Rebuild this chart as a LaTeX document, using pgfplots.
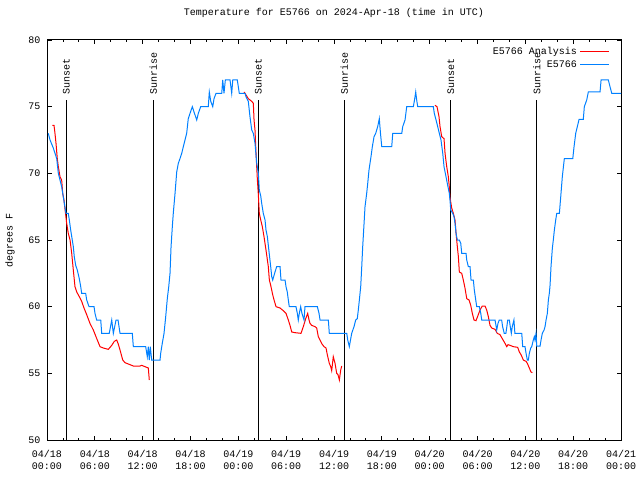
\documentclass[border=0pt]{standalone}
\usepackage{fontspec}
\setmainfont{Liberation Mono}
\usepackage{pgfplots}
\pgfplotsset{compat=1.18}
\definecolor{obsblue}{HTML}{0080FF}
\definecolor{anared}{HTML}{FF0000}

\begin{document}
\begin{tikzpicture}[font=\fontsize{10bp}{12bp}\selectfont]
\begin{axis}[
    scale only axis,
    width=574bp, height=400bp,
    xmin=0, xmax=72, ymin=50, ymax=80,
    xtick={0,6,...,72},
    minor x tick num=2,
    ytick={50,55,...,80},
    xticklabels={04/18\\00:00,04/18\\06:00,04/18\\12:00,04/18\\18:00,04/19\\00:00,04/19\\06:00,04/19\\12:00,04/19\\18:00,04/20\\00:00,04/20\\06:00,04/20\\12:00,04/20\\18:00,04/21\\00:00},
    xticklabel style={align=center, yshift=-7bp},
    yticklabel style={xshift=-3bp},
    /pgf/number format/assume math mode=true,
    tick align=inside,
    major tick length=4.5bp, minor tick length=2.5bp,
    tick style={black, line width=0.8bp},
    axis line style={line width=1bp},
    title={Temperature for E5766 on 2024-Apr-18 (time in UTC)},
    title style={at={(0.5,1)}, anchor=center, yshift=21bp},
    ylabel={degrees F},
    ylabel style={at={(rel axis cs:0,0.5)}, anchor=center, rotate=0, yshift=37bp},
    legend plot pos=right,
    legend cell align=right,
    legend image code/.code={\draw[#1] (0bp,0bp) -- (29bp,0bp);},
    legend style={draw=none, fill=none, at={(1,1)}, anchor=north east,
        xshift=-8bp, yshift=-3bp, row sep=0pt,
        nodes={inner ysep=2bp, inner xsep=3bp, text height=7bp, text depth=2bp}},
]
% sunset / sunrise markers
\addplot[black, line width=1bp, forget plot] coordinates {(2.42,50) (2.42,75.5)};
\addplot[black, line width=1bp, forget plot] coordinates {(13.34,50) (13.34,75.5)};
\addplot[black, line width=1bp, forget plot] coordinates {(26.51,50) (26.51,75.5)};
\addplot[black, line width=1bp, forget plot] coordinates {(37.30,50) (37.30,75.5)};
\addplot[black, line width=1bp, forget plot] coordinates {(50.64,50) (50.64,75.5)};
\addplot[black, line width=1bp, forget plot] coordinates {(61.43,50) (61.43,75.5)};
\node[rotate=90, anchor=west, inner sep=0pt] at (axis cs:2.42,75.9) {Sunset};
\node[rotate=90, anchor=west, inner sep=0pt] at (axis cs:13.34,75.9) {Sunrise};
\node[rotate=90, anchor=west, inner sep=0pt] at (axis cs:26.51,75.9) {Sunset};
\node[rotate=90, anchor=west, inner sep=0pt] at (axis cs:37.30,75.9) {Sunrise};
\node[rotate=90, anchor=west, inner sep=0pt] at (axis cs:50.64,75.9) {Sunset};
\node[rotate=90, anchor=west, inner sep=0pt] at (axis cs:61.43,75.9) {Sunrise};

% analysis
\addplot[anared, line width=1bp] coordinates {
(0.66,73.6) (0.88,73.6) (1.00,73.0) (1.13,72.25) (1.29,71.1) (1.42,70.5) (1.63,69.75) (1.84,69.5)
(1.97,68.5) (2.13,68.0) (2.30,67.1) (2.47,66.25) (2.67,65.5) (2.89,65.0) (3.10,64.0) (3.30,62.75)
(3.51,61.5) (3.73,61.1) (4.05,60.75) (4.35,60.4) (4.64,59.9) (4.98,59.4) (5.39,58.75) (5.81,58.25)
(6.31,57.5) (6.65,57.0) (7.06,56.9) (7.69,56.8) (8.12,57.1) (8.44,57.4) (8.74,57.5) (8.94,57.2)
(9.16,56.75) (9.50,56.0) (9.78,55.8) (10.20,55.7) (10.83,55.55) (11.67,55.55) (11.88,55.6)
(12.29,55.5) (12.71,55.4) (12.83,54.5)};
\addlegendentry{E5766 Analysis}
\addplot[anared, line width=1bp, forget plot] coordinates {
(24.71,76.1) (24.84,76.0) (25.25,75.6) (25.68,75.4) (25.88,75.25) (25.97,74.0) (26.09,73.25)
(26.22,71.5) (26.38,69.6) (26.51,68.4) (26.63,67.0) (26.81,66.5) (27.01,66.0) (27.22,65.25)
(27.47,64.25) (27.76,63.0) (27.89,62.0) (28.06,61.6) (28.31,60.9) (28.48,60.5) (28.73,60.0)
(29.23,59.9) (29.64,59.7) (29.98,59.5) (30.27,59.0) (30.48,58.6) (30.70,58.1) (31.11,58.05)
(31.86,58.0) (32.15,58.5) (32.45,59.1) (32.70,59.5) (32.87,59.0) (32.99,58.75) (33.20,58.6)
(33.62,58.5) (33.83,58.4) (34.03,57.75) (34.25,57.5) (34.50,57.2) (34.75,57.0) (35.00,56.9)
(35.16,56.4) (35.41,55.75) (35.59,55.5) (35.71,55.2) (35.91,56.25) (36.13,55.75) (36.34,55.0)
(36.50,54.9) (36.67,54.5) (36.84,55.25) (36.97,55.55)};
\addplot[anared, line width=1bp, forget plot] coordinates {
(48.67,75.1) (48.92,75.0) (49.17,74.25) (49.30,73.5) (49.51,72.75) (49.80,72.6) (49.93,71.5)
(50.14,70.5) (50.34,69.75) (50.46,69.0) (50.55,68.2) (50.76,67.4) (50.97,67.0) (51.18,66.5)
(51.31,65.5) (51.47,64.5) (51.60,63.75) (51.72,62.6) (52.02,62.5) (52.22,62.0) (52.43,61.4)
(52.65,60.6) (52.94,60.5) (53.15,60.1) (53.35,59.5) (53.56,59.0) (53.81,58.95) (54.10,59.4)
(54.32,59.75) (54.60,60.05) (54.94,60.05) (55.15,59.75) (55.36,59.25) (55.57,58.6) (55.78,58.4)
(56.20,58.3) (56.48,58.0) (56.82,57.9) (57.11,57.6) (57.45,57.25) (57.67,57.0) (57.83,57.15)
(58.08,57.1) (58.49,57.0) (59.04,56.95) (59.25,56.6) (59.46,56.4) (59.75,56.0) (60.09,55.9)
(60.25,55.75) (60.50,55.4) (60.71,55.1) (60.88,55.05)};

% observations
\addplot[obsblue, line width=1bp] coordinates {
(0.16,73.0) (0.38,72.5) (0.79,71.9) (1.22,71.1) (1.42,70.0) (1.84,69.0) (2.04,68.25) (2.38,67.0)
(2.67,67.0) (2.80,66.5) (2.97,65.75) (3.17,65.0) (3.30,64.5) (3.42,63.75) (3.60,63.1) (3.80,62.75)
(4.05,62.1) (4.23,61.5) (4.35,61.0) (4.85,61.0) (4.98,60.5) (5.27,60.0) (5.90,60.0) (6.02,59.5)
(6.23,59.0) (6.74,59.0) (6.86,58.0) (7.81,58.0) (8.12,59.0) (8.32,58.0) (8.66,59.0) (8.91,59.0)
(9.16,58.0) (10.70,58.0) (10.83,57.0) (12.38,57.0) (12.58,56.25) (12.71,57.0) (12.83,56.0)
(12.96,57.0) (13.13,56.0) (14.18,56.0) (14.26,56.5) (14.46,57.25) (14.68,58.0) (14.89,59.25)
(15.09,60.6) (15.27,61.5) (15.43,62.5) (15.56,64.5) (15.72,66.0) (15.84,67.0) (16.06,68.5)
(16.27,70.1) (16.47,70.75) (16.68,71.1) (16.90,71.5) (17.10,72.0) (17.31,72.5) (17.52,73.0)
(17.72,74.1) (17.94,74.5) (18.23,75.0) (18.44,74.6) (18.78,74.0) (18.98,74.5) (19.28,75.0)
(20.23,75.0) (20.36,76.1) (20.54,75.4) (20.79,75.0) (20.95,75.6) (21.20,76.0) (21.92,76.0)
(22.04,77.0) (22.20,76.0) (22.37,77.0) (22.96,77.0) (23.17,76.0) (23.30,77.0) (23.87,77.0)
(24.12,76.0) (24.84,76.0) (24.96,75.75) (25.25,75.4) (25.46,74.25) (25.68,73.25) (25.88,73.0)
(26.09,72.25) (26.31,70.75) (26.51,70.0) (26.63,68.75) (26.81,68.3) (26.93,67.75) (27.13,67.0)
(27.35,66.5) (27.47,65.75) (27.64,65.25) (27.76,64.6) (27.89,63.9) (28.06,63.0) (28.19,62.25)
(28.31,62.0) (28.60,62.6) (28.81,63.0) (29.23,63.0) (29.35,62.0) (29.86,62.0) (29.98,61.5)
(30.14,61.1) (30.27,60.5) (30.39,60.0) (31.23,60.0) (31.40,59.5) (31.52,59.0) (31.65,59.5)
(31.82,60.0) (31.98,59.5) (32.24,59.0) (32.36,60.0) (33.91,60.0) (34.12,59.5) (34.25,59.0)
(35.29,59.0) (35.41,58.0) (37.60,58.0) (37.72,57.5) (37.92,57.0) (38.07,57.5) (38.22,58.0)
(38.51,58.5) (38.72,59.0) (38.92,59.1) (39.05,59.75) (39.18,60.5) (39.35,61.5) (39.48,63.0)
(39.60,64.5) (39.77,66.25) (39.89,67.5) (40.10,68.5) (40.23,69.25) (40.39,70.25) (40.64,71.25)
(40.81,72.0) (41.02,72.75) (41.23,73.0) (41.48,73.5) (41.68,74.1) (41.83,73.0) (41.99,72.0)
(43.24,72.0) (43.37,73.0) (44.50,73.0) (44.62,73.5) (44.91,74.0) (45.12,75.0) (45.95,75.0)
(46.10,75.5) (46.25,76.1) (46.37,75.5) (46.50,75.0) (48.46,75.0) (48.58,74.5) (48.80,74.0)
(49.01,73.5) (49.21,73.0) (49.42,72.5) (49.64,71.5) (49.80,70.5) (50.05,69.75) (50.21,69.25)
(50.46,68.5) (50.55,68.0) (50.64,67.25) (50.89,67.0) (51.05,66.75) (51.18,66.25) (51.31,65.5)
(51.47,65.0) (51.72,65.0) (51.90,64.75) (52.02,64.0) (52.56,64.0) (52.65,63.5) (52.85,63.0)
(53.06,63.0) (53.19,62.0) (53.48,62.0) (53.60,61.25) (53.78,60.5) (53.90,60.0) (54.23,60.0)
(54.41,59.5) (54.53,59.0) (56.20,59.0) (56.41,58.25) (56.57,58.75) (56.73,59.0) (57.03,59.0)
(57.15,58.5) (57.35,58.0) (57.56,58.0) (57.68,58.5) (57.79,59.0) (57.99,59.0) (58.11,58.5)
(58.24,58.0) (58.36,58.5) (58.57,59.0) (58.69,58.0) (59.55,58.0) (59.67,57.0) (59.96,57.0)
(60.09,56.5) (60.25,56.0) (60.38,56.0) (60.50,56.5) (60.68,56.9) (60.80,57.0) (61.00,57.5)
(61.13,57.75) (61.21,57.5) (61.34,58.0) (61.43,57.05) (61.85,57.05) (61.97,57.5) (62.13,58.0)
(62.35,58.25) (62.47,58.5) (62.60,59.0) (62.76,59.5) (62.89,60.5) (63.01,61.0) (63.10,61.6)
(63.22,63.0) (63.39,64.4) (63.51,65.0) (63.64,65.75) (63.81,66.5) (63.94,67.0) (64.27,67.0)
(64.44,68.25) (64.64,69.75) (64.89,71.1) (65.95,71.1) (66.11,72.0) (66.32,73.0) (66.52,73.5)
(66.74,74.05) (67.27,74.05) (67.40,75.0) (67.70,75.5) (67.90,76.1) (69.37,76.1) (69.50,77.0)
(70.41,77.0) (70.62,76.5) (70.84,76.0) (72.0,76.0)};
\addlegendentry{E5766}
\end{axis}
\path (current axis.south west) ++(-47bp,-40bp) rectangle ([shift={(19bp,40bp)}]current axis.north east);
\end{tikzpicture}
\end{document}
